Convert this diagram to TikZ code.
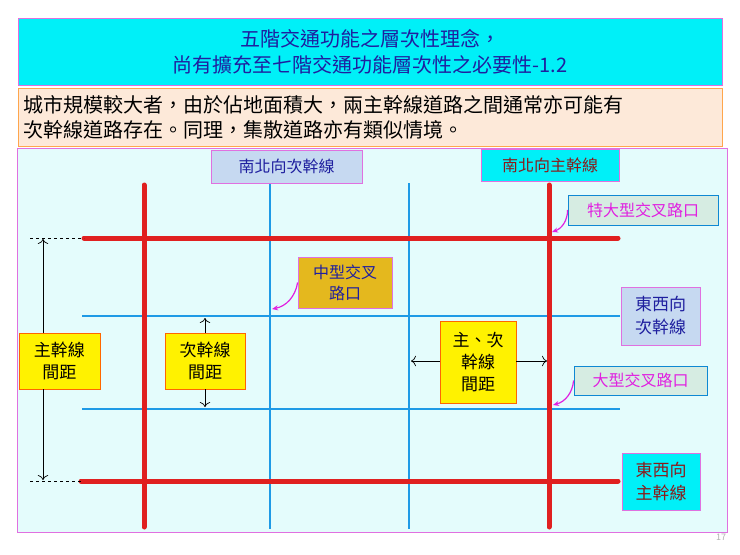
\documentclass[tikz,border=0pt]{standalone}
\usepackage{fontspec}
\setmainfont{Noto Sans CJK TC}
\usetikzlibrary{arrows.meta}
\definecolor{navy}{HTML}{1F1F9F}
\definecolor{lblue}{HTML}{C6D9F1}
\definecolor{pnk}{HTML}{E070E0}
\definecolor{brn}{HTML}{8B1A1A}
\definecolor{road}{HTML}{E02020}
\definecolor{sroad}{HTML}{1E9AE6}
\definecolor{cyn}{HTML}{00F0F8}
\definecolor{mag}{HTML}{E020E0}
\begin{document}
\begin{tikzpicture}[x=1pt,y=-1pt,
  lab/.style={draw=pnk,line width=0.8pt,align=center,inner sep=2pt,font=\fontsize{16}{21}\selectfont},
  gap/.style={draw=orange!80!red,fill=yellow,line width=0.8pt,align=center,font=\fontsize{17}{22}\selectfont},
  mroad/.style={road,line width=5pt,line cap=round},
  broad/.style={sroad,line width=2.2pt},
  marr/.style={mag,line width=1.2pt,-{Stealth[length=6pt,width=5pt]}},
  darr/.style={-{To[length=5pt]},line width=0.7pt}]
\useasboundingbox (0,0) rectangle (740,555);
\fill[white] (0,0) rectangle (740,555);
\node[draw=pnk,fill=cyn,minimum width=704pt,minimum height=67pt,anchor=north west,align=center,text=navy,font=\fontsize{20}{26}\selectfont] (title) at (18,18) {五階交通功能之層次性理念，\\尚有擴充至七階交通功能層次性之必要性-1.2};
\node[draw=orange!70,fill={rgb,255:red,253;green,233;blue,217},minimum width=704pt,minimum height=58pt,anchor=north west,align=left,text width=694pt,font=\fontsize{20}{25}\selectfont] (sub) at (18,88) {城市規模較大者，由於佔地面積大，兩主幹線道路之間通常亦可能有\\次幹線道路存在。同理，集散道路亦有類似情境。};
\node[draw=pnk,fill={rgb,255:red,228;green,252;blue,252},minimum width=710pt,minimum height=384pt,anchor=north west] (panel) at (17,148) {};
% roads
\coordinate (v1t) at (144,185); \coordinate (v1b) at (144,527);
\coordinate (v4t) at (549,185); \coordinate (v4b) at (549,527);
\coordinate (v2t) at (270,183); \coordinate (v2b) at (270,529);
\coordinate (v3t) at (409,183); \coordinate (v3b) at (409,529);
\coordinate (h1l) at (84,238); \coordinate (h1r) at (618,238);
\coordinate (h4l) at (81,481); \coordinate (h4r) at (618,481);
\coordinate (h2l) at (82,316); \coordinate (h2r) at (620,316);
\coordinate (h3l) at (82,409); \coordinate (h3r) at (620,409);
\draw[broad] (v2t)--(v2b); \draw[broad] (v3t)--(v3b);
\draw[broad] (h2l)--(h2r); \draw[broad] (h3l)--(h3r);
\draw[mroad] (v1t)--(v1b); \draw[mroad] (v4t)--(v4b);
\draw[mroad] (h1l)--(h1r); \draw[mroad] (h4l)--(h4r);
% labels
\node[lab,fill=lblue,text=navy,minimum width=151pt,minimum height=33pt] (ns2) at (286.5,166.5) {南北向次幹線};
\node[lab,fill=cyn,text=brn,minimum width=138pt,minimum height=32pt] (ns1) at (550,165) {南北向主幹線};
\node[lab,draw=cyan!70!blue,fill={rgb,255:red,214;green,236;blue,226},text=mag,minimum width=150pt,minimum height=30pt] (xl) at (643,210) {特大型交叉路口};
\node[lab,fill={rgb,255:red,228;green,184;blue,30},text=navy,minimum width=94pt,minimum height=51pt] (xm) at (345,282.5) {中型交叉\\路口};
\node[lab,fill=lblue,text=navy,minimum width=79pt,minimum height=58pt,font=\fontsize{17}{23}\selectfont] (ew2) at (660.5,316) {東西向\\次幹線};
\node[lab,draw=cyan!70!blue,fill={rgb,255:red,214;green,236;blue,226},text=mag,minimum width=133pt,minimum height=29pt] (xb) at (640.5,380.5) {大型交叉路口};
\node[lab,fill=cyn,text=brn,minimum width=78pt,minimum height=57pt,font=\fontsize{17}{23}\selectfont] (ew1) at (661,481.5) {東西向\\主幹線};
\coordinate (p1) at (552,232); \coordinate (p2) at (272,309); \coordinate (p3) at (553,405);
\draw[marr] (xl.west) to[bend left=35] (p1);
\draw[marr] (xm.west) to[bend left=35] (p2);
\draw[marr] (xb.west) to[bend left=35] (p3);
% spacing
\node[gap,minimum width=81pt,minimum height=56pt] (g1) at (59.5,361) {主幹線\\間距};
\node[gap,minimum width=80pt,minimum height=56pt] (g2) at (205,361) {次幹線\\間距};
\node[gap,minimum width=76pt,minimum height=82pt] (g3) at (478,362) {主、次\\幹線\\間距};
\coordinate (a1t) at (43,239); \coordinate (a1b) at (43,480);
\draw[dashed,line width=0.7pt] (30,238) -- (h1l);
\draw[dashed,line width=0.7pt] (30,481) -- (h4l);
\draw[darr] (g1.north -| a1t) -- (a1t);
\draw[darr] (g1.south -| a1t) -- (a1b);
\coordinate (a2t) at (205,318); \coordinate (a2b) at (205,407);
\draw[darr] (g2.north) -- (a2t);
\draw[darr] (g2.south) -- (a2b);
\coordinate (a3l) at (411,361); \coordinate (a3r) at (547,361);
\draw[darr] (g3.west |- a3l) -- (a3l);
\draw[darr] (g3.east |- a3r) -- (a3r);
\node[text=gray!60,font=\fontsize{9}{10}\selectfont] (pg) at (721,537) {17};
\end{tikzpicture}
\end{document}
